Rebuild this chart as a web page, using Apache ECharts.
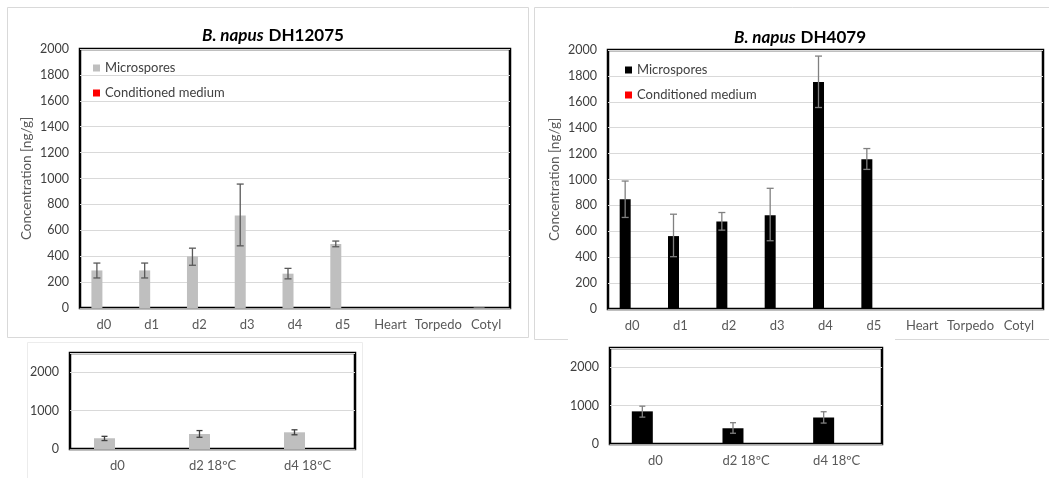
<!DOCTYPE html>
<html>
<head>
<meta charset="utf-8">
<script src="https://cdn.jsdelivr.net/npm/echarts@6/dist/echarts.min.js"></script>
<style>
  html, body { margin: 0; padding: 0; background: #fff; }
  #chart { width: 1049px; height: 478px; }
</style>
</head>
<body>
<div id="chart"></div>
<script>
  // categories
  const topCats = ['d0', 'd1', 'd2', 'd3', 'd4', 'd5', 'Heart', 'Torpedo', 'Cotyl'];
  const bottomCats = ['d0', 'd2 18ºC', 'd4 18ºC'];

  // B. napus DH12075 (microspores, mean + error range)
  const dh12075Mean = [290, 290, 398, 715, 265, 494, null, null, 4];
  const dh12075Low = [232, 232, 330, 480, 225, 473, null, null, null];
  const dh12075High = [347, 347, 462, 957, 306, 517, null, null, null];

  // B. napus DH4079
  const dh4079Mean = [848, 563, 676, 724, 1753, 1157, null, null, 4];
  const dh4079Low = [707, 404, 609, 527, 1556, 1078, null, null, null];
  const dh4079High = [988, 732, 745, 932, 1953, 1239, null, null, null];

  // conditioned medium (nothing visible)
  const condMedium = [0, 0, 0, 0, 0, 0, 0, 0, 0];
  const condMediumSmall = [0, 0, 0];

  // lower panels
  const low12075Mean = [280, 390, 435];
  const low12075Low = [220, 305, 370];
  const low12075High = [330, 480, 500];
  const low4079Mean = [850, 410, 690];
  const low4079Low = [700, 280, 545];
  const low4079High = [985, 555, 840];

  const FONT = 'Lato';
  const GREY = '#bfbfbf';
  const TXT = '#595959';

  function errData(low, high) {
    const out = [];
    low.forEach((l, i) => {
      if (l != null) out.push([i, l, high[i]]);
    });
    return out;
  }

  // error bar drawn at the microspore bar position (left of the category centre)
  function errRender(offset, cap, color) {
    return function (params, api) {
      const lo = api.coord([api.value(0), api.value(1)]);
      const hi = api.coord([api.value(0), api.value(2)]);
      const x = lo[0] + offset;
      const st = { stroke: color, lineWidth: 1.3 };
      return {
        type: 'group',
        children: [
          { type: 'line', shape: { x1: x, y1: lo[1], x2: x, y2: hi[1] }, style: st },
          { type: 'line', shape: { x1: x - cap, y1: lo[1], x2: x + cap, y2: lo[1] }, style: st },
          { type: 'line', shape: { x1: x - cap, y1: hi[1], x2: x + cap, y2: hi[1] }, style: st }
        ]
      };
    };
  }

  const gridBase = { show: true, borderColor: '#000', borderWidth: 2.5, backgroundColor: '#fff' };

  function xAx(idx, data) {
    return {
      type: 'category', gridIndex: idx, data: data,
      axisLine: { show: true, lineStyle: { color: '#a6a6a6' } },
      axisTick: { show: false },
      axisLabel: { color: TXT, fontFamily: FONT, fontSize: 13, margin: 10, interval: 0 }
    };
  }

  function yAx(idx, max, interval, name) {
    return {
      type: 'value', gridIndex: idx, min: 0, max: max, interval: interval,
      name: name || '', nameLocation: 'middle', nameGap: 46,
      nameTextStyle: { color: TXT, fontFamily: FONT, fontSize: 13.5 },
      axisLine: { show: false }, axisTick: { show: false },
      axisLabel: {
        color: '#404040', fontFamily: FONT, fontSize: 12.5, margin: 11,
        showMaxLabel: interval === 200, formatter: v => String(v)
      },
      splitLine: { lineStyle: { color: '#d9d9d9', width: 1 } }
    };
  }

  const titleRich = {
    i: { fontFamily: FONT, fontSize: 17, fontWeight: 'bold', fontStyle: 'italic', color: '#000' },
    b: { fontFamily: FONT, fontSize: 17, fontWeight: 'bold', color: '#000' }
  };

  const legendBase = {
    orient: 'vertical', icon: 'rect', itemWidth: 7, itemHeight: 7, itemGap: 11,
    textStyle: { fontFamily: FONT, fontSize: 13, color: '#404040', lineHeight: 14 },
    selectedMode: false
  };

  const chart = echarts.init(document.getElementById('chart'));
  chart.setOption({
    backgroundColor: '#fff',
    animation: false,
    title: [
      { text: '{i|B. napus} {b|DH12075}', left: 268, top: 22, textAlign: 'center', textStyle: { rich: titleRich } },
      { text: '{i|B. napus} {b|DH4079}', left: 795, top: 24, textAlign: 'center', textStyle: { rich: titleRich } }
    ],
    graphic: [
      { type: 'rect', z: -10, shape: { x: 7.5, y: 7.5, width: 521, height: 330 }, style: { fill: '#fff', stroke: '#d9d9d9', lineWidth: 1 } },
      { type: 'rect', z: -10, shape: { x: 534.5, y: 7.5, width: 530, height: 332 }, style: { fill: '#fff', stroke: '#d9d9d9', lineWidth: 1 } },
      { type: 'rect', z: -10, shape: { x: 27.5, y: 342.5, width: 335, height: 140 }, style: { fill: '#fff', stroke: '#ececec', lineWidth: 1 } },
      { type: 'rect', z: -9, shape: { x: 568, y: 338, width: 327, height: 140 }, style: { fill: '#fff' } }
    ],
    legend: [
      Object.assign({}, legendBase, { left: 88, top: 56, data: ['Microspores', 'Conditioned medium'] }),
      Object.assign({}, legendBase, { left: 620, top: 58, data: [{ name: 'Microspores', itemStyle: { color: '#000' } }, 'Conditioned medium'] })
    ],
    grid: [
      Object.assign({ left: 80, top: 49, width: 430, height: 259 }, gridBase),
      Object.assign({ left: 608, top: 50, width: 435, height: 259 }, gridBase),
      Object.assign({ left: 70, top: 353, width: 285, height: 96 }, gridBase),
      Object.assign({ left: 610, top: 348, width: 272, height: 96 }, gridBase)
    ],
    xAxis: [xAx(0, topCats), xAx(1, topCats), xAx(2, bottomCats), xAx(3, bottomCats)],
    yAxis: [
      yAx(0, 2000, 200, 'Concentration [ng/g]'),
      yAx(1, 2000, 200, 'Concentration [ng/g]'),
      yAx(2, 2500, 1000),
      yAx(3, 2500, 1000)
    ],
    series: [
      { name: 'Microspores', type: 'bar', xAxisIndex: 0, yAxisIndex: 0, data: dh12075Mean, barWidth: 11, barGap: '27%', itemStyle: { color: GREY } },
      { name: 'Conditioned medium', type: 'bar', xAxisIndex: 0, yAxisIndex: 0, data: condMedium, barWidth: 11, barGap: '27%', itemStyle: { color: '#ff0000' } },
      { type: 'custom', xAxisIndex: 0, yAxisIndex: 0, data: errData(dh12075Low, dh12075High), encode: { x: 0, y: [1, 2] }, renderItem: errRender(-7, 3.5, '#595959'), z: 5 },

      { name: 'Microspores', type: 'bar', xAxisIndex: 1, yAxisIndex: 1, data: dh4079Mean, barWidth: 11, barGap: '27%', itemStyle: { color: '#000' } },
      { name: 'Conditioned medium', type: 'bar', xAxisIndex: 1, yAxisIndex: 1, data: condMedium, barWidth: 11, barGap: '27%', itemStyle: { color: '#ff0000' } },
      { type: 'custom', xAxisIndex: 1, yAxisIndex: 1, data: errData(dh4079Low, dh4079High), encode: { x: 0, y: [1, 2] }, renderItem: errRender(-7, 3.5, '#808080'), z: 5 },

      { name: 'Microspores', type: 'bar', xAxisIndex: 2, yAxisIndex: 2, data: low12075Mean, barWidth: 21, barGap: '24%', itemStyle: { color: GREY } },
      { name: 'Conditioned medium', type: 'bar', xAxisIndex: 2, yAxisIndex: 2, data: condMediumSmall, barWidth: 21, barGap: '24%', itemStyle: { color: '#ff0000' } },
      { type: 'custom', xAxisIndex: 2, yAxisIndex: 2, data: errData(low12075Low, low12075High), encode: { x: 0, y: [1, 2] }, renderItem: errRender(-13, 3, '#404040'), z: 5 },

      { name: 'Microspores', type: 'bar', xAxisIndex: 3, yAxisIndex: 3, data: low4079Mean, barWidth: 21, barGap: '24%', itemStyle: { color: '#000' } },
      { name: 'Conditioned medium', type: 'bar', xAxisIndex: 3, yAxisIndex: 3, data: condMediumSmall, barWidth: 21, barGap: '24%', itemStyle: { color: '#ff0000' } },
      { type: 'custom', xAxisIndex: 3, yAxisIndex: 3, data: errData(low4079Low, low4079High), encode: { x: 0, y: [1, 2] }, renderItem: errRender(-13, 3, '#808080'), z: 5 }
    ]
  });
</script>
</body>
</html>
